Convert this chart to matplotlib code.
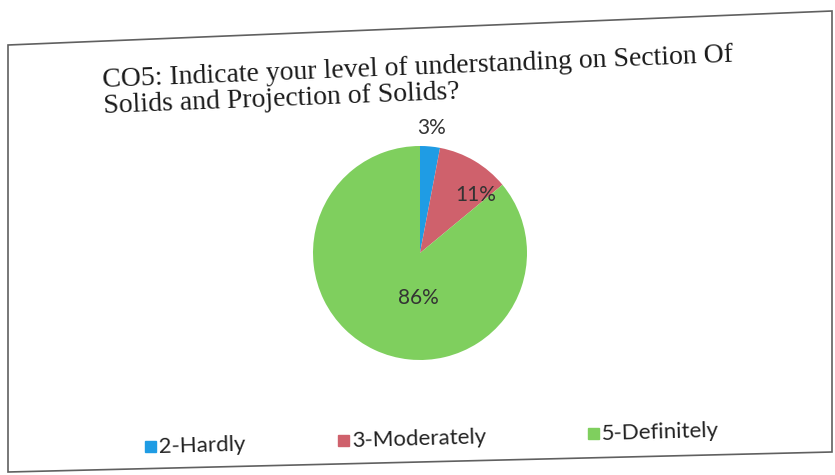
import matplotlib
matplotlib.use("Agg")
import matplotlib.pyplot as plt
from matplotlib.patches import Polygon, Rectangle
import numpy as np

# data
categories = ["2-Hardly", "3-Moderately", "5-Definitely"]
shares = [3, 11, 86]
colors = ["#1f9ce4", "#cf616c", "#7fcf5e"]
title = "CO5: Indicate your level of understanding on Section Of\nSolids and Projection of Solids?"

W, H = 835, 475
fig = plt.figure(figsize=(W / 100, H / 100), dpi=100)


def fx(px):
    return px / W


def fy(py):
    return 1 - py / H


# slanted frame of the scanned chart area
frame = Polygon([(fx(8), fy(45)), (fx(832), fy(11)), (fx(832), fy(452)), (fx(8), fy(472))],
                closed=True, fill=False, edgecolor="#606060", linewidth=1.2,
                transform=fig.transFigure)
fig.patches.append(frame)

fig.text(fx(104), fy(112), title, fontsize=20, family="Liberation Serif",
         rotation=2.3, rotation_mode="anchor", ha="left", va="baseline",
         linespacing=1.05, color="#1a1a1a")

# pie centred at about (420, 253) px, radius about 107 px
r = 107
ax = fig.add_axes([fx(420 - r), fy(253 + r), 2 * r / W, 2 * r / H])
wedges, _ = ax.pie(shares, colors=colors, startangle=90, counterclock=False,
                   radius=1, wedgeprops=dict(linewidth=0))
ax.set_xlim(-1, 1)
ax.set_ylim(-1, 1)
ax.set_aspect("equal")
ax.axis("off")

# label placement (angle offset from slice middle, distance) like the original
label_pos = [(0, 1.17), (-13, 0.75), (23, 0.42)]
start = 90
for share, (off, dist) in zip(shares, label_pos):
    span = share / sum(shares) * 360
    mid = np.deg2rad(start - span / 2 + off)
    ax.text(dist * np.cos(mid), dist * np.sin(mid), f"{share}%", ha="center", va="center",
            fontsize=15, family="Lato", color="#333333", clip_on=False)
    start -= span

# legend drawn by hand so it can follow the slight tilt of the scan
legend_x = [145, 338, 588]
legend_y = [453, 447, 440]
for name, c, lx, ly in zip(categories, colors, legend_x, legend_y):
    fig.patches.append(Rectangle((fx(lx), fy(ly - 1)), 11 / W, 11 / H, color=c,
                                 transform=fig.transFigure))
    fig.text(fx(lx + 14), fy(ly), name, fontsize=16, family="Lato", color="#222222",
             rotation=1.6, rotation_mode="anchor", ha="left", va="baseline")

fig.savefig("out.png", dpi=100, facecolor="white")
